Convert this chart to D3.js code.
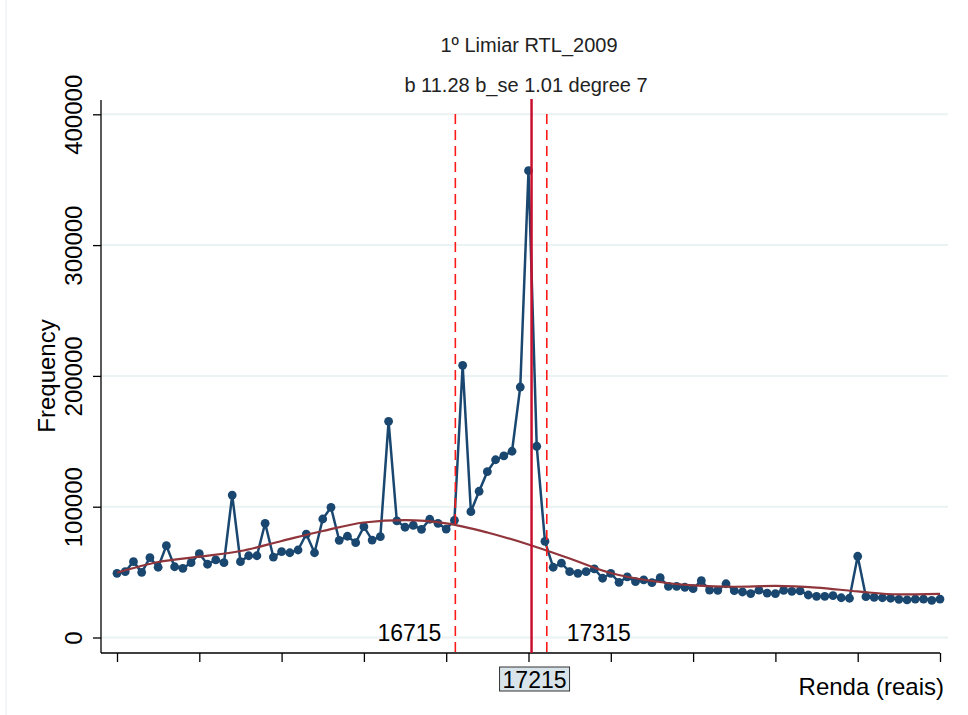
<!DOCTYPE html>
<html>
<head>
<meta charset="utf-8">
<script src="https://cdn.jsdelivr.net/npm/d3@7"></script>
<style>
  body { margin: 0; background: #fff; }
  text { font-family: "Liberation Sans", Arial, sans-serif; }
</style>
</head>
<body>
<svg width="968" height="715"></svg>
<script>
// bins: income (reais), 101 bins around the threshold
const binStart = 14495, binWidth = 54;
const freq = [
  49100, 50300, 58000, 49800, 61000, 53700, 70200, 54100, 52900, 57200,
  64100, 56000, 59300, 57200, 108900, 58000, 62500, 62500, 87300, 61500,
  65600, 64800, 66900, 79100, 64800, 90600, 99500, 74300, 77400, 72500,
  84700, 74500, 77100, 165300, 89100, 84300, 85800, 82700, 90400, 87300,
  82900, 89600, 208100, 96200, 111800, 126800, 135900, 138800, 142400, 191500,
  356900, 146200, 73500, 53700, 56800, 50300, 49100, 50300, 52400, 45300,
  49100, 42200, 46300, 42700, 44000, 41900, 45700, 39100, 39100, 38400,
  37300, 43400, 36300, 36100, 41100, 35800, 34800, 33600, 36300, 34000,
  33500, 36100, 35300, 35600, 32500, 31500, 31500, 32000, 30400, 30000,
  62100, 31200, 30700, 30400, 30000, 29200, 28700, 29400, 29400, 28400,
  29400
];
// counterfactual fit, read every 5 bins
const fitIdx = [0, 5, 10, 15, 20, 25, 30, 35, 40, 45, 50, 55, 60, 65, 70, 75, 80, 85, 90, 95, 100];
const fitVals = [49500, 57700, 61800, 66100, 73800, 81400, 87900, 89800, 87300, 80300,
  71100, 60400, 49300, 43200, 39800, 38800, 39400, 38200, 35200, 32900, 33300];
const yTicks = [0, 100000, 200000, 300000, 400000];
const threshold = 17215, lower = 16715, upper = 17315;
const title = "1º Limiar RTL_2009";
const subtitle = "b 11.28 b_se 1.01 degree 7";

const bins = d3.range(freq.length).map(i => binStart + i * binWidth);

const svg = d3.select("svg");
svg.append("rect").attr("width", 968).attr("height", 715).attr("fill", "#fff");
svg.append("line").attr("x1", 6).attr("x2", 6).attr("y1", 0).attr("y2", 715)
  .attr("stroke", "#e6ecef").attr("stroke-width", 1);

const x = d3.scaleLinear().domain([bins[0], bins[100]]).range([117, 940]);
const y = d3.scaleLinear().domain([0, 400000]).range([637.5, 114.3]);

const plotL = 101, plotB = 653, plotR = 948, plotT = 100;

// gridlines
svg.append("g").selectAll("line").data(yTicks).join("line")
  .attr("x1", plotL).attr("x2", plotR)
  .attr("y1", d => y(d)).attr("y2", d => y(d))
  .attr("stroke", "#eaf2f3").attr("stroke-width", 2);

// y axis
const yAxis = svg.append("g").attr("transform", `translate(${plotL},0)`)
  .call(d3.axisLeft(y).tickValues(yTicks).tickSize(8).tickFormat(d3.format("d")));
yAxis.select(".domain").remove();
yAxis.selectAll(".tick line").attr("stroke", "#000").attr("stroke-width", 1.3);
yAxis.selectAll(".tick text")
  .attr("font-size", 24).attr("fill", "#000").attr("font-family", "Liberation Sans, Arial, sans-serif")
  .attr("x", 0).attr("y", 0).attr("dy", 0)
  .attr("text-anchor", "middle")
  .attr("transform", "translate(-19,0) rotate(-90)");
svg.append("line").attr("x1", plotL).attr("x2", plotL).attr("y1", plotT).attr("y2", plotB)
  .attr("stroke", "#000").attr("stroke-width", 1.3);

// x axis
const xTicks = d3.range(0, 101, 10).map(i => bins[i]);
const xAxis = svg.append("g").attr("transform", `translate(0,${plotB})`)
  .call(d3.axisBottom(x).tickValues(xTicks).tickSize(9).tickFormat(""));
xAxis.select(".domain").remove();
xAxis.selectAll(".tick line").attr("stroke", "#000").attr("stroke-width", 1.3);
svg.append("line").attr("x1", plotL).attr("x2", x(bins[100])).attr("y1", plotB).attr("y2", plotB)
  .attr("stroke", "#000").attr("stroke-width", 1.3);

// data line
svg.append("path").datum(freq)
  .attr("fill", "none").attr("stroke", "#1a476f").attr("stroke-width", 2.5)
  .attr("d", d3.line().x((d, i) => x(bins[i])).y(d => y(d)));
svg.append("g").selectAll("circle").data(freq).join("circle")
  .attr("cx", (d, i) => x(bins[i])).attr("cy", d => y(d)).attr("r", 4.4)
  .attr("fill", "#1a476f");

// fitted counterfactual
svg.append("path").datum(fitVals)
  .attr("fill", "none").attr("stroke", "#90353b").attr("stroke-width", 2.2)
  .attr("d", d3.line().x((d, i) => x(bins[fitIdx[i]])).y(d => y(d)).curve(d3.curveMonotoneX));

// threshold lines
[lower, upper].forEach(v => {
  svg.append("line").attr("x1", x(v)).attr("x2", x(v)).attr("y1", 114).attr("y2", plotB)
    .attr("stroke", "#ff1a1a").attr("stroke-width", 1.6).attr("stroke-dasharray", "10,6");
});
svg.append("line").attr("x1", x(threshold)).attr("x2", x(threshold)).attr("y1", 99).attr("y2", plotB)
  .attr("stroke", "#c8102e").attr("stroke-width", 2.5);

// labels for limits
svg.append("text").attr("x", x(lower) - 14).attr("y", 641).attr("text-anchor", "end")
  .attr("font-size", 23).attr("fill", "#000").text(lower);
svg.append("text").attr("x", x(upper) + 20).attr("y", 641).attr("text-anchor", "start")
  .attr("font-size", 23).attr("fill", "#000").text(upper);

// boxed threshold tick label
const bx = x(threshold) + 3;
svg.append("rect").attr("x", bx - 35).attr("y", 667).attr("width", 70).attr("height", 24)
  .attr("fill", "#d9e4ea").attr("stroke", "#333").attr("stroke-width", 1);
svg.append("text").attr("x", bx).attr("y", 688).attr("text-anchor", "middle")
  .attr("font-size", 23).attr("fill", "#000").text(threshold);

// titles
svg.append("text").attr("x", 529).attr("y", 52).attr("text-anchor", "middle")
  .attr("font-size", 20).attr("fill", "#222").text(title);
svg.append("text").attr("x", 526).attr("y", 92).attr("text-anchor", "middle")
  .attr("font-size", 20).attr("fill", "#222").text(subtitle);

// axis titles
svg.append("text").attr("x", 944).attr("y", 695).attr("text-anchor", "end")
  .attr("font-size", 24).attr("fill", "#000").text("Renda (reais)");
svg.append("text").attr("transform", "translate(55,376) rotate(-90)").attr("text-anchor", "middle")
  .attr("font-size", 24).attr("fill", "#000").text("Frequency");
</script>
</body>
</html>
